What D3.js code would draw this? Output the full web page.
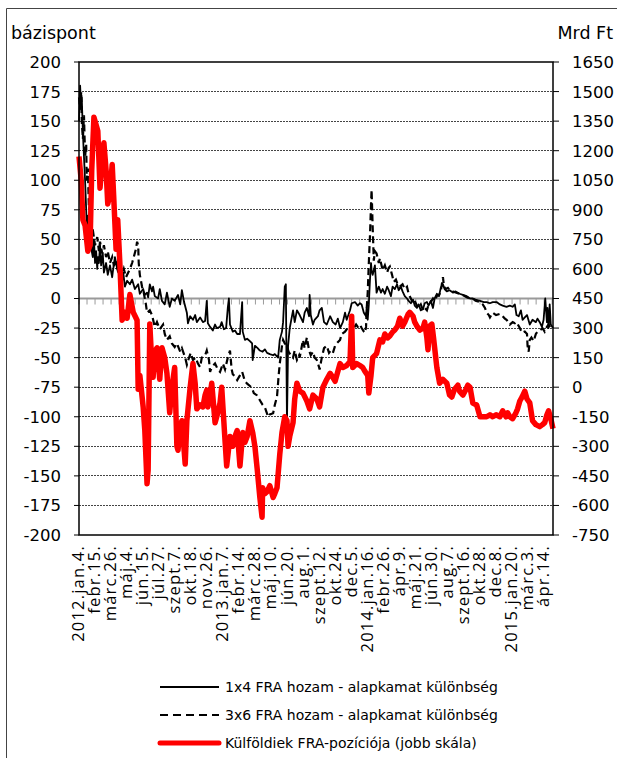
<!DOCTYPE html>
<html><head><meta charset="utf-8">
<script src="https://cdn.jsdelivr.net/npm/d3@7"></script>
<style>body{margin:0;background:#fff}svg{display:block}</style>
</head><body><svg id="c" width="617" height="758"></svg>
<script>
const xLabels = ["2012.jan.4.","febr.15.","márc.26.","máj.4.","jún.15.","júl.27.","szept.7.","okt.18.","nov.26.","2013.jan.7.","febr.14.","márc.28.","máj.10.","jún.20.","aug.1.","szept.12.","okt.24.","dec.5.","2014.jan.16.","febr.26.","ápr.9.","máj.21.","jún.30.","aug.7.","szept.16.","okt.28.","dec.8.","2015.jan.20.","márc.3.","ápr.14."];
const labelStep = 29;   // business days between labels
const nDays = 857;      // business days shown
const leftTicks = d3.range(-200, 201, 25);
const rightTicks = d3.range(-750, 1651, 150);

// [business-day index, value]
const fra1x4 = [[0,150],[2,180],[4,160],[5,170],[7,140],[9,120],[11,100],[13,75],[14,60],[16,70],[18,55],[20,45],[22,60],[23,40],[25,35],[27,50],[29,30],[31,40],[33,25],[34,35],[36,30],[38,45],[40,28],[43,38],[45,22],[49,30],[52,20],[56,28],[60,18],[61,22],[65,35],[69,25],[70,30],[74,20],[78,15],[80,22],[83,10],[87,15],[92,12],[96,16],[101,8],[107,12],[110,4],[116,8],[119,3],[123,5],[125,1],[128,12],[132,6],[134,10],[137,2],[143,0],[146,8],[150,-2],[155,-5],[159,5],[164,-7],[168,0],[173,-2],[179,3],[183,-5],[186,7],[190,-3],[195,-12],[197,-21],[201,-15],[206,-18],[210,-14],[213,-20],[219,-16],[224,-20],[228,-19],[231,-2],[233,-21],[237,-24],[242,-27],[246,-22],[249,-25],[255,-24],[258,-20],[262,-26],[266,-25],[269,-8],[271,0],[273,-22],[278,-28],[282,-27],[286,-30],[291,-30],[295,-3],[296,-28],[300,-35],[304,-34],[309,-36],[313,-38],[314,-52],[318,-40],[323,-42],[327,-44],[332,-45],[336,-43],[340,-46],[345,-47],[351,-48],[354,-47],[360,-50],[363,-35],[367,-28],[369,-20],[372,10],[374,12],[376,-105],[378,-40],[381,-25],[387,-10],[390,-20],[394,-10],[399,-14],[405,-20],[408,-12],[412,-8],[416,-15],[417,3],[419,-14],[423,-22],[426,-18],[432,-15],[435,-10],[439,-8],[443,-20],[448,-22],[454,-15],[459,-20],[464,-22],[468,-17],[472,-25],[477,-20],[481,-12],[484,-18],[490,-10],[493,-4],[499,-3],[504,-6],[508,-4],[511,-5],[515,-12],[519,-15],[520,-8],[522,-18],[524,-5],[526,15],[528,30],[529,24],[531,20],[535,28],[538,5],[542,10],[546,5],[549,8],[553,4],[557,10],[560,7],[564,2],[567,10],[571,8],[575,12],[578,7],[582,10],[585,6],[589,2],[593,0],[596,-2],[600,-4],[604,-1],[607,-6],[611,-8],[614,-5],[618,-10],[622,-9],[625,-4],[629,-3],[632,-6],[636,-2],[640,-8],[643,0],[647,4],[651,2],[654,9],[658,12],[661,8],[665,6],[670,7],[676,5],[681,6],[688,4],[694,3],[701,2],[707,0],[712,0],[717,-1],[725,-2],[732,-3],[737,-3],[743,-4],[748,-3],[755,-3],[761,-5],[766,-6],[773,-7],[779,-6],[784,-7],[788,-5],[791,-14],[795,-15],[799,-10],[802,-18],[806,-16],[810,-14],[815,-22],[820,-18],[826,-20],[829,-17],[833,-20],[837,-24],[840,-18],[843,0],[846,-20],[847,-8],[849,-25],[851,-5],[853,-22],[857,-25]];

const fra3x6 = [[0,170],[2,160],[4,175],[5,150],[7,135],[9,155],[11,120],[13,130],[14,100],[16,110],[18,75],[20,80],[22,60],[25,58],[29,45],[33,52],[36,40],[38,48],[42,38],[45,45],[49,35],[52,40],[56,30],[60,35],[63,28],[67,30],[70,24],[74,28],[78,20],[81,25],[85,18],[89,22],[92,25],[96,30],[99,35],[103,42],[105,48],[107,45],[108,30],[110,20],[114,10],[117,5],[121,-5],[123,-12],[128,-10],[132,-14],[137,-24],[141,-20],[146,-26],[152,-22],[155,-30],[159,-35],[164,-32],[168,-38],[173,-41],[177,-38],[183,-45],[186,-42],[192,-50],[195,-56],[199,-50],[202,-46],[206,-52],[211,-50],[215,-55],[219,-58],[222,-50],[228,-48],[231,-44],[235,-52],[237,-62],[240,-58],[246,-55],[251,-60],[255,-62],[258,-58],[260,-55],[264,-60],[269,-50],[273,-44],[276,-60],[278,-64],[282,-66],[286,-69],[291,-65],[295,-62],[300,-70],[304,-72],[309,-74],[313,-76],[316,-80],[322,-82],[327,-86],[332,-90],[336,-92],[342,-100],[345,-98],[351,-97],[354,-90],[358,-83],[361,-65],[363,-55],[367,-40],[369,-35],[372,-38],[376,-40],[379,-45],[383,-48],[387,-50],[390,-44],[394,-52],[398,-48],[399,-50],[403,-40],[405,-35],[408,-42],[412,-33],[416,-44],[419,-48],[423,-45],[426,-50],[430,-52],[434,-58],[435,-60],[439,-50],[443,-42],[448,-40],[452,-46],[455,-44],[459,-46],[463,-40],[466,-38],[472,-35],[475,-30],[481,-28],[484,-26],[490,-22],[493,-20],[497,-25],[501,-22],[504,-24],[508,-22],[511,-25],[515,-28],[517,-29],[519,-24],[520,-10],[522,5],[524,30],[526,52],[528,80],[529,92],[531,60],[533,32],[535,40],[538,38],[542,30],[544,34],[548,26],[549,24],[553,28],[557,22],[560,26],[562,27],[566,20],[569,14],[573,16],[576,12],[580,10],[585,12],[589,8],[593,10],[596,4],[600,0],[604,-4],[607,-2],[611,-6],[614,-8],[618,-5],[622,-10],[625,-8],[629,-10],[632,-5],[636,-3],[640,0],[643,-2],[647,2],[651,3],[654,6],[658,18],[660,10],[663,8],[667,9],[670,7],[676,6],[681,5],[688,4],[694,3],[701,1],[707,0],[712,0],[717,-2],[725,-3],[730,-5],[734,-8],[737,-12],[741,-14],[743,-16],[748,-12],[754,-14],[761,-13],[766,-15],[770,-17],[773,-18],[779,-22],[784,-20],[788,-21],[791,-20],[797,-25],[801,-29],[806,-28],[810,-30],[811,-40],[813,-45],[815,-35],[818,-33],[822,-36],[826,-30],[829,-28],[833,-27],[838,-25],[842,-28],[846,-24],[849,-22],[853,-25],[857,-24]];

const foreignPos = [[0,1170],[4,1050],[7,850],[11,820],[16,690],[20,720],[23,1100],[27,1370],[31,1330],[34,1300],[38,1010],[42,1150],[45,1240],[49,1100],[52,930],[56,980],[60,1130],[63,950],[67,700],[70,850],[74,620],[78,340],[83,380],[87,350],[92,470],[98,380],[105,340],[107,-10],[110,60],[116,-100],[119,-220],[123,-490],[125,-420],[128,320],[132,100],[134,50],[137,180],[141,200],[146,40],[150,200],[155,150],[159,70],[164,-130],[168,0],[173,100],[177,-300],[179,-320],[183,-200],[186,-170],[192,-390],[195,-170],[201,0],[206,120],[210,20],[213,-110],[219,-90],[224,-100],[228,-40],[231,-15],[233,-100],[237,-40],[240,20],[246,-180],[251,-130],[255,-80],[258,0],[264,-270],[267,-400],[273,-250],[278,-300],[282,-250],[286,-220],[291,-400],[296,-230],[300,-280],[304,-250],[309,-170],[314,-230],[318,-300],[322,-410],[327,-560],[331,-660],[332,-510],[336,-540],[340,-530],[345,-500],[351,-560],[354,-540],[358,-510],[363,-340],[367,-230],[372,-150],[376,-170],[378,-300],[381,-250],[387,-180],[390,-60],[394,20],[399,-20],[405,-30],[412,-70],[417,-110],[423,-40],[430,-60],[435,-100],[441,0],[448,40],[454,70],[459,50],[463,30],[472,120],[477,100],[484,110],[490,130],[493,360],[495,100],[502,120],[508,110],[513,100],[517,80],[522,60],[524,-30],[528,60],[531,150],[538,170],[544,240],[549,230],[553,270],[558,250],[562,260],[567,280],[571,290],[576,310],[580,350],[585,310],[589,330],[595,370],[598,380],[604,360],[607,330],[611,310],[616,290],[622,300],[625,330],[629,250],[631,190],[634,310],[638,320],[641,250],[647,100],[652,20],[658,40],[665,20],[670,-40],[674,-50],[679,-10],[685,10],[688,-20],[694,-40],[698,-20],[703,10],[707,0],[712,-80],[719,-90],[725,-150],[732,-150],[737,-150],[743,-140],[748,-150],[754,-140],[761,-150],[766,-120],[772,-150],[775,-130],[779,-150],[784,-160],[790,-130],[793,-110],[797,-70],[801,-50],[806,-20],[810,-60],[815,-80],[820,-170],[826,-190],[833,-200],[838,-190],[842,-180],[846,-140],[849,-120],[853,-160],[857,-210]];

const seriesNames = ["1x4 FRA hozam - alapkamat különbség","3x6 FRA hozam - alapkamat különbség","Külföldiek FRA-pozíciója (jobb skála)"];

const svg = d3.select("#c");
const L = 79, R = 553, T = 62, B = 535;
const x = d3.scaleLinear().domain([0, nDays]).range([L, R]);
const yL = d3.scaleLinear().domain([-200, 200]).range([B, T]);
const yR = d3.scaleLinear().domain([-750, 1650]).range([B, T]);
const tickFont = "DejaVu Sans, Verdana, sans-serif";

// outer frame
svg.append("path").attr("d", `M6.5,758 V8.5 H617`).attr("fill","none").attr("stroke","#444").attr("stroke-width",1);

// gridlines
svg.append("g").selectAll("line").data(leftTicks.filter(v => v !== 0 && v !== 200 && v !== -200)).join("line")
  .attr("x1", L).attr("x2", R).attr("y1", d => yL(d)).attr("y2", d => yL(d))
  .attr("stroke", "#444").attr("stroke-width", 1).attr("stroke-dasharray", "1.5,1.5").attr("shape-rendering","crispEdges");

// zero line (category axis)
svg.append("line").attr("x1", L).attr("x2", R).attr("y1", yL(0)).attr("y2", yL(0))
  .attr("stroke", "#9a9a9a").attr("stroke-width", 2);
const minorTicks = d3.range(0, nDays + 1, labelStep / 2);
svg.append("g").selectAll("line").data(minorTicks).join("line")
  .attr("x1", d => x(d)).attr("x2", d => x(d)).attr("y1", yL(0)).attr("y2", yL(0) + 6)
  .attr("stroke", "#9a9a9a").attr("stroke-width", 1);

// series
const line = (ys) => d3.line().x(d => x(d[0])).y(d => ys(d[1]));
svg.append("path").datum(fra1x4).attr("d", line(yL)).attr("fill","none").attr("stroke","#000").attr("stroke-width",1.8).attr("stroke-linejoin","round");
svg.append("path").datum(fra3x6).attr("d", line(yL)).attr("fill","none").attr("stroke","#000").attr("stroke-width",2.2).attr("stroke-dasharray","7,4");
svg.append("path").datum(foreignPos).attr("d", line(yR)).attr("fill","none").attr("stroke","#ff0000").attr("stroke-width",5.5).attr("stroke-linejoin","round");

// frame of plot
svg.append("rect").attr("x", L).attr("y", T).attr("width", R - L).attr("height", B - T)
  .attr("fill","none").attr("stroke","#000").attr("stroke-width",1.5);

// left axis ticks and labels
const gl = svg.append("g");
gl.selectAll("line").data(leftTicks).join("line")
  .attr("x1", L - 5).attr("x2", L).attr("y1", d => yL(d)).attr("y2", d => yL(d)).attr("stroke","#000").attr("stroke-width",1);
gl.selectAll("text").data(leftTicks).join("text")
  .attr("x", 61).attr("y", d => yL(d)).attr("dy","0.36em").attr("text-anchor","end")
  .attr("font-family", tickFont).attr("font-size", 16.5).text(d => d);

const gr = svg.append("g");
gr.selectAll("line").data(rightTicks).join("line")
  .attr("x1", R).attr("x2", R + 6).attr("y1", d => yR(d)).attr("y2", d => yR(d)).attr("stroke","#000").attr("stroke-width",1);
gr.selectAll("text").data(rightTicks).join("text")
  .attr("x", 572).attr("y", d => yR(d)).attr("dy","0.36em").attr("text-anchor","start")
  .attr("font-family", tickFont).attr("font-size", 16.5).text(d => d);

// axis titles
svg.append("text").attr("x", 11).attr("y", 39).attr("font-family", tickFont).attr("font-size", 17.5).text("bázispont");
svg.append("text").attr("x", 613).attr("y", 39).attr("text-anchor","end").attr("font-family", tickFont).attr("font-size", 17.5).text("Mrd Ft");

// x labels
svg.append("g").selectAll("text").data(xLabels).join("text")
  .attr("transform", (d, i) => `translate(${x(i * labelStep) + 5},545) rotate(-90)`)
  .attr("text-anchor","end").attr("font-family","Open Sans, sans-serif").attr("font-size", 16.5).attr("letter-spacing", 1.2)
  .text(d => d);

// legend
const legY = [687, 715, 743];
const lg = svg.append("g");
lg.append("line").attr("x1",160).attr("x2",219).attr("y1",legY[0]).attr("y2",legY[0]).attr("stroke","#000").attr("stroke-width",2);
lg.append("line").attr("x1",160).attr("x2",219).attr("y1",legY[1]).attr("y2",legY[1]).attr("stroke","#000").attr("stroke-width",2.2).attr("stroke-dasharray","8,5");
lg.append("line").attr("x1",160).attr("x2",219).attr("y1",legY[2]).attr("y2",legY[2]).attr("stroke","#ff0000").attr("stroke-width",5).attr("stroke-linecap","round");
lg.selectAll("text").data(seriesNames).join("text")
  .attr("x", 225).attr("y", (d, i) => legY[i]).attr("dy","0.35em")
  .attr("font-family", tickFont).attr("font-size", 14).text(d => d);
</script></body></html>
